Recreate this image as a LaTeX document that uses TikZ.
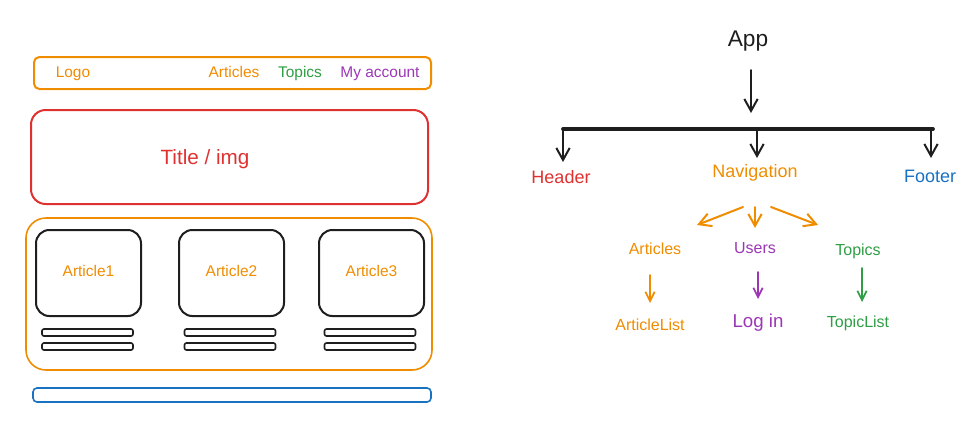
\documentclass[tikz,border=0pt]{standalone}
\usepackage{fontspec}
\setmainfont{Liberation Sans}
\usetikzlibrary{arrows.meta,calc}
\definecolor{exO}{HTML}{F08C00}
\definecolor{exR}{HTML}{E03131}
\definecolor{exG}{HTML}{2F9E44}
\definecolor{exV}{HTML}{9C36B5}
\definecolor{exB}{HTML}{1971C2}
\definecolor{exK}{HTML}{1E1E1E}
\newcommand{\fsz}[1]{\fontsize{#1}{#1}\selectfont}
\tikzset{
  frame/.style={draw=#1, line width=1.5pt, rounded corners=4pt, inner sep=0pt},
  txt/.style={inner sep=1pt, text height=0.72em, text depth=0.2em},
  lbl/.style={txt, text=#1, font=\fsz{11.6pt}},
  big/.style={txt, text=#1, font=\fsz{13.5pt}},
  mid/.style={txt, text=#1, font=\fsz{12pt}},
  arr/.style={draw=#1, line width=1.5pt, line cap=round, line join=round,
     -{Straight Barb[length=9pt,width=10pt,line width=1.5pt]}},
  sarr/.style={draw=#1, line width=1.3pt, line cap=round, line join=round,
     -{Straight Barb[length=7pt,width=7pt,line width=1.3pt]}},
}
\begin{document}
\begin{tikzpicture}[x=0.75pt,y=-0.75pt]
\useasboundingbox (0,0) rectangle (980,433);
% ---------- left wireframe ----------
\node[frame=exO, minimum width=297.75pt, minimum height=24pt, rounded corners=4pt] (nav) at (232.5,73) {};
\node[lbl=exO] (logo) at (73,74) {Logo};
\node[lbl=exO] (navart) at (234,74) {Articles};
\node[lbl=exG] (navtop) at (300,74) {Topics};
\node[lbl=exV] (navacc) at (380,74) {My account};

\node[frame=exR, minimum width=297.75pt, minimum height=70.5pt, rounded corners=11pt] (titlebox) at (229.5,157) {};
\node[txt, text=exR, font=\fsz{15.5pt}] (title) at (205,161) {Title / img};

\node[frame=exO, line width=1.2pt, minimum width=304.5pt, minimum height=114pt, rounded corners=15pt] (content) at (229,294) {};
\foreach \i/\cx/\bx in {1/88.5/87.5, 2/231.5/230, 3/371.5/370}{
  \node[frame=exK, minimum width=78.75pt, minimum height=64.5pt, rounded corners=10pt] (card\i) at (\cx,273) {};
  \node[lbl=exO] (cardt\i) at (\cx,273) {Article\i};
  \node[frame=exK, line width=1.2pt, minimum width=68.25pt, minimum height=5.25pt, rounded corners=1.5pt] (barA\i) at (\bx,332.5) {};
  \node[frame=exK, line width=1.2pt, minimum width=68.25pt, minimum height=5.25pt, rounded corners=1.5pt] (barB\i) at (\bx,346.5) {};
}
\node[frame=exB, line width=1.2pt, minimum width=298.5pt, minimum height=10.5pt, rounded corners=3pt] (footbar) at (232,395) {};

% ---------- right tree ----------
\node[txt, text=exK, font=\fsz{17pt}] (App) at (748,43) {App};
\coordinate (barL) at (563,129);
\coordinate (barM) at (751,129);
\coordinate (barR) at (933,129);
\draw[exK, line width=2.8pt, line cap=round] (barL) -- (barR);

\node[big=exR] (Header) at (561,180) {Header};
\node[big=exO] (Navigation) at (755,174) {Navigation};
\node[big=exB] (Footer) at (930,179) {Footer};

\node[mid=exO] (Articles) at (655,251) {Articles};
\node[mid=exV] (Users) at (755,250) {Users};
\node[mid=exG] (Topics) at (858,252) {Topics};

\node[mid=exO] (ArticleList) at (650,327) {ArticleList};
\node[txt, text=exV, font=\fsz{14pt}] (Login) at (758,324) {Log in};
\node[mid=exG] (TopicList) at (858,324) {TopicList};

\draw[arr=exK] ($(App)+(3,27)$) -- ($(barM)+(0,-16)$);
\draw[arr=exK] (barL) -- ($(Header)+(2,-18)$);
\draw[arr=exK] ($(barL -| Navigation)+(2,0)$) -- ($(Navigation)+(2,-16)$);
\draw[arr=exK] ($(barR)+(-2,0)$) -- ($(Footer)+(1,-21)$);

\draw[arr=exO] ($(Navigation)+(-12,33)$) -- ($(Articles)+(42,-26)$);
\draw[arr=exO] ($(Navigation)+(0,33)$) -- ($(Users)+(0,-22)$);
\draw[arr=exO] ($(Navigation)+(16,33)$) -- ($(Topics)+(-40,-27)$);

\draw[sarr=exO] ($(Articles)+(-5,24)$) -- ($(ArticleList)+(0,-24)$);
\draw[sarr=exV] ($(Users)+(3,22)$) -- ($(Login)+(0,-25)$);
\draw[sarr=exG] ($(Topics)+(4,16)$) -- ($(TopicList)+(4,-22)$);
\end{tikzpicture}
\end{document}
